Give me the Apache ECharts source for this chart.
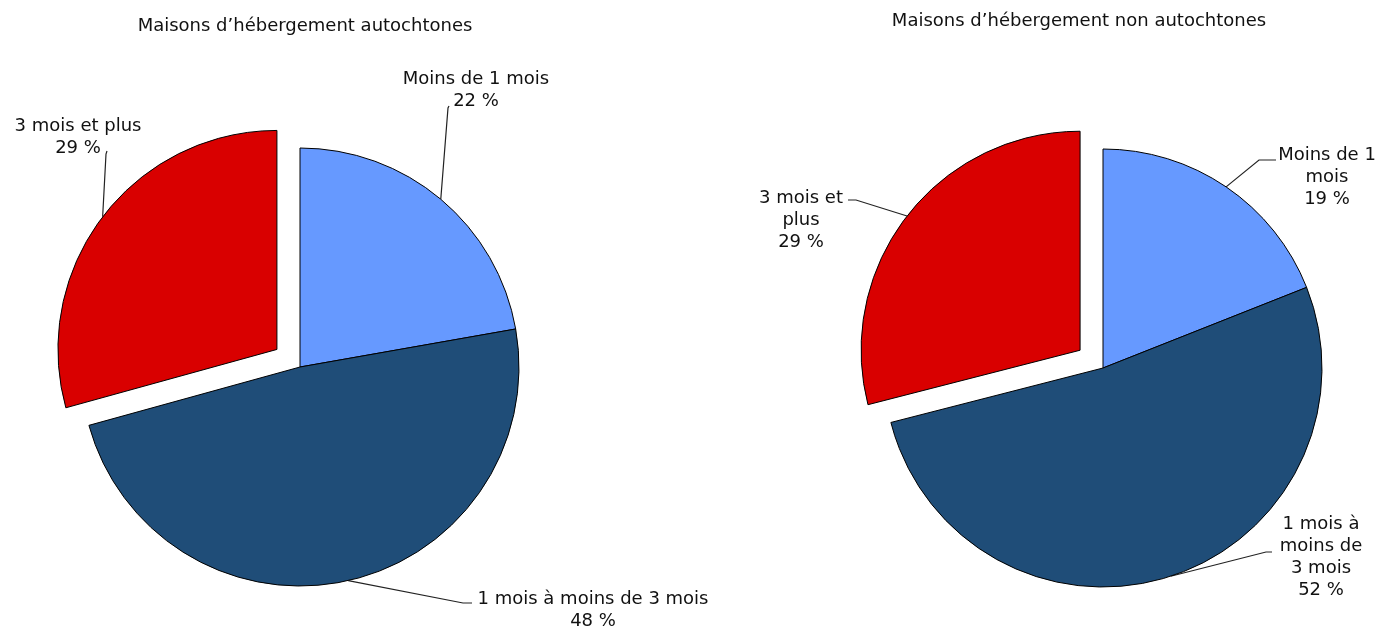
<!DOCTYPE html>
<html>
<head>
<meta charset="utf-8">
<script src="https://cdn.jsdelivr.net/npm/echarts@6/dist/echarts.min.js"></script>
<style>
  html, body { margin: 0; padding: 0; background: #fff; }
  #chart { width: 1377px; height: 627px; }
</style>
</head>
<body>
<div id="chart"></div>
<script>
// catégories et valeurs (%)
const categories = ['Moins de 1 mois', '1 mois à moins de 3 mois', '3 mois et plus'];
const valuesAutochtones = [22, 48, 29];
const valuesNonAutochtones = [19, 52, 29];
const titles = ['Maisons d\u2019hébergement autochtones', 'Maisons d\u2019hébergement non autochtones'];
// libellés affichés (retours à la ligne comme dans l'original)
const labelsAutochtones = ['Moins de 1 mois', '1 mois à moins de 3 mois', '3 mois et plus'];
const labelsNonAutochtones = ['Moins de 1\nmois', '1 mois à\nmoins de\n3 mois', '3 mois et\nplus'];

const colors = ['#6699ff', '#1f4d78', '#d90000'];
const FONT = 'DejaVu Sans, Verdana, sans-serif';
const EXPLODED = 2;      // tranche détachée : « 3 mois et plus »
const EXPLODE_DIST = 29;
const RADIUS = 219;

// position des libellés : centre du texte + coude/fin de la ligne de rappel
const labelPos = [
  [ { x: 476, y: 90, bend: [448, 108], end: [449, 106] },
    { x: 593, y: 610, bend: [463, 603], end: [472, 603] },
    { x: 78, y: 137, bend: [106, 154], end: [107, 151] } ],
  [ { x: 1327, y: 177, bend: [1259, 160], end: [1276, 160] },
    { x: 1321, y: 557, bend: [1266, 552], end: [1272, 552] },
    { x: 801, y: 220, bend: [856, 200], end: [848, 200] } ],
];

// décalage de la tranche détachée, dans la direction de son angle médian
function explodeShift(values) {
  const total = values.reduce((a, b) => a + b, 0);
  const before = values.slice(0, EXPLODED).reduce((a, b) => a + b, 0);
  const mid = (before + values[EXPLODED] / 2) / total * 2 * Math.PI;
  return [EXPLODE_DIST * Math.sin(mid), -EXPLODE_DIST * Math.cos(mid)];
}

// part: 'base' dessine toutes les tranches sauf la détachée, 'out' seulement la détachée
function buildData(values, labels, part) {
  return values.map((v, i) => {
    const visible = part === 'base' ? i !== EXPLODED : i === EXPLODED;
    return {
      name: categories[i],
      value: v,
      label: { show: visible, formatter: labels[i] + '\n' + v + ' %' },
      labelLine: { show: visible },
      itemStyle: visible
        ? { color: colors[i], borderColor: '#000', borderWidth: 1 }
        : { color: 'rgba(0,0,0,0)', borderWidth: 0 },
    };
  });
}

function makeSeries(idx, center, values, labels, part) {
  const pos = labelPos[idx];
  let c = center;
  if (part === 'out') {
    const s = explodeShift(values);
    c = [center[0] + s[0], center[1] + s[1]];
  }
  return {
    type: 'pie',
    center: c,
    radius: RADIUS,
    startAngle: 90,
    clockwise: true,
    silent: true,
    avoidLabelOverlap: false,
    data: buildData(values, labels, part),
    emphasis: { disabled: true },
    label: {
      position: 'outside',
      color: '#111',
      fontFamily: FONT,
      fontSize: 18,
      lineHeight: 22,
      align: 'center',
    },
    labelLine: { length: 20, length2: 10, lineStyle: { color: '#222', width: 1.2 } },
    labelLayout: function (params) {
      const p = pos[params.dataIndex];
      const start = params.labelLinePoints ? params.labelLinePoints[0] : p.bend;
      return {
        x: p.x,
        y: p.y,
        align: 'center',
        verticalAlign: 'middle',
        labelLinePoints: [start, p.bend, p.end],
      };
    },
  };
}

const chart = echarts.init(document.getElementById('chart'));
chart.setOption({
  animation: false,
  backgroundColor: '#fff',
  title: [
    { text: titles[0], left: 300, top: 12, textAlign: 'center',
      textStyle: { fontFamily: FONT, fontSize: 18, fontWeight: 'normal', color: '#111' } },
    { text: titles[1], left: 1074, top: 7, textAlign: 'center',
      textStyle: { fontFamily: FONT, fontSize: 18, fontWeight: 'normal', color: '#111' } },
  ],
  series: [
    makeSeries(0, [300, 367], valuesAutochtones, labelsAutochtones, 'base'),
    makeSeries(0, [300, 367], valuesAutochtones, labelsAutochtones, 'out'),
    makeSeries(1, [1103, 368], valuesNonAutochtones, labelsNonAutochtones, 'base'),
    makeSeries(1, [1103, 368], valuesNonAutochtones, labelsNonAutochtones, 'out'),
  ],
});
</script>
</body>
</html>
